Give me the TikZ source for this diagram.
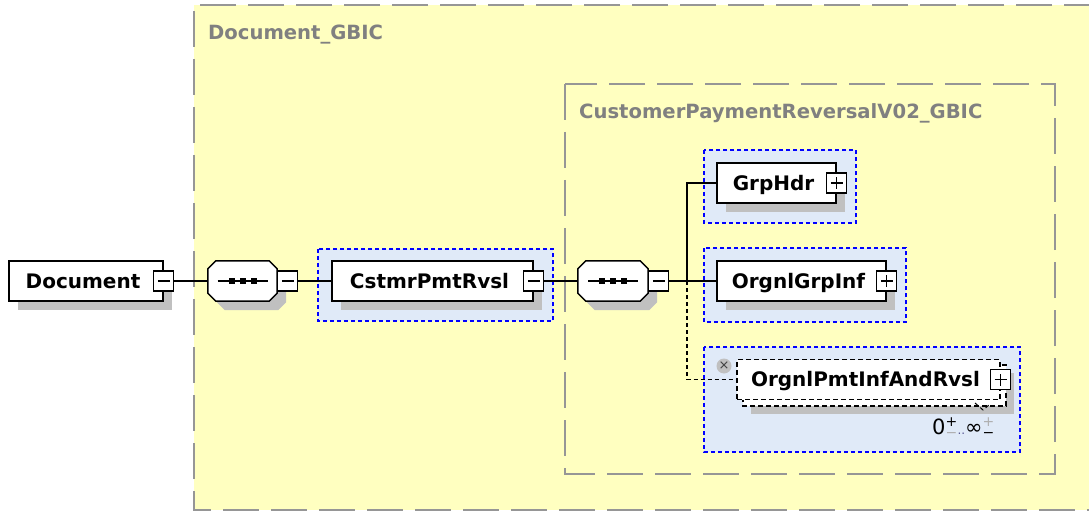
\documentclass[tikz,border=0pt]{standalone}
\usepackage{fontspec}
\setmainfont{DejaVu Sans}
\usetikzlibrary{shadows,calc}
\definecolor{yel}{RGB}{255,255,192}
\definecolor{dgray}{RGB}{150,150,150}
\definecolor{tgray}{RGB}{128,128,128}
\definecolor{lgray}{RGB}{175,175,175}
\definecolor{lblue}{RGB}{224,234,248}
\definecolor{shc}{RGB}{192,192,192}
\definecolor{bblue}{RGB}{0,0,255}
\definecolor{dotc}{RGB}{90,90,150}
\newcommand\octdraw[1]{%
  \begin{scope}[transform canvas={shift={(9pt,-9pt)}}]
    \fill[shc] ([xshift=8pt]#1.north west) -- ([xshift=-8pt]#1.north east) -- ([yshift=-8pt]#1.north east) -- ([yshift=8pt]#1.south east) -- ([xshift=-8pt]#1.south east) -- ([xshift=8pt]#1.south west) -- ([yshift=8pt]#1.south west) -- ([yshift=-8pt]#1.north west) -- cycle;
  \end{scope}
  \draw[octline] ([xshift=8pt]#1.north west) -- ([xshift=-8pt]#1.north east) -- ([yshift=-8pt]#1.north east) -- ([yshift=8pt]#1.south east) -- ([xshift=-8pt]#1.south east) -- ([xshift=8pt]#1.south west) -- ([yshift=8pt]#1.south west) -- ([yshift=-8pt]#1.north west) -- cycle;
  \draw[conn] ([xshift=-25pt]#1.center) -- ([xshift=25pt]#1.center);
  \foreach \dx in {-11,0,11}{\fill ([xshift=\dx pt]#1.center) +(-3pt,-3pt) rectangle +(3pt,3pt);}
}
\newcommand\pmst[2]{\makebox[12pt][l]{\rlap{\raisebox{7.5pt}{\fontsize{14}{14}\selectfont\color{#1}+}}\raisebox{-3pt}{\fontsize{14}{14}\selectfont\color{#2}−}}}
\begin{document}
\begin{tikzpicture}[x=1pt,y=-1pt,
  grpbox/.style={draw=dgray, line width=2pt, dash pattern=on 36pt off 12pt},
  titletxt/.style={anchor=base west, text=tgray, font=\fontsize{19.6}{22}\selectfont\bfseries, inner sep=0},
  bluebox/.style={draw=bblue, fill=lblue, line width=1.5pt, dash pattern=on 4pt off 3pt},
  elembase/.style={fill=white, line width=1.6pt, inner sep=0, minimum height=40pt,
    text height=14.5pt, text depth=0pt, font=\fontsize{20}{24}\selectfont\bfseries,
    execute at begin node={\hspace*{-6pt}}},
  elem/.style={elembase, draw=black, drop shadow={shadow xshift=9pt, shadow yshift=-9pt, fill=shc, opacity=1}},
  elemdash/.style={elembase, draw=black, line width=1.3pt, dash pattern=on 5pt off 3pt},
  seqnode/.style={minimum width=#1, minimum height=40pt, inner sep=0},
  octline/.style={draw=black, fill=white, line width=1.5pt},
  conn/.style={draw=black, line width=1.4pt},
  dconn/.style={conn, dash pattern=on 4pt off 3pt},
  pmbase/.style={draw=black, fill=white, line width=1.2pt, minimum size=20pt, inner sep=0},
  minusbox/.style={pmbase, path picture={\draw[line width=1.3pt] ([xshift=-6pt]path picture bounding box.center) -- ([xshift=6pt]path picture bounding box.center);}},
  plusbox/.style={pmbase, path picture={\draw[line width=1.3pt] ([xshift=-6pt]path picture bounding box.center) -- ([xshift=6pt]path picture bounding box.center) ([yshift=-6pt]path picture bounding box.center) -- ([yshift=6pt]path picture bounding box.center);}}
]
\useasboundingbox (0,0) rectangle (1089,513);
\fill[white] (0,0) rectangle (1089,513);
% group boxes
\fill[yel] (194,5) rectangle (1100,510);
\draw[grpbox] (1100,5) -- (194,5) -- (194,510) -- (1100,510);
\draw[grpbox] (565,84) rectangle (1055,474);
\node[titletxt] (t1) at (208,40) {Document\_GBIC};
\node[titletxt] (t2) at (579,119) {CustomerPaymentReversalV02\_GBIC};
% blue boxes
\draw[bluebox] (318,249) rectangle (553,321);
\draw[bluebox] (704,150) rectangle (856,223);
\draw[bluebox] (704,248) rectangle (906,322);
\draw[bluebox] (704,347) rectangle (1020,452);
% Document
\node[elem, minimum width=154pt] (doc) at (86,281) {Document};
\node[minusbox] (docm) at (doc.east) {};
% sequence A
\node[seqnode=69pt] (seqA) at (242.5,281) {};
\octdraw{seqA}
\node[minusbox, anchor=west] (seqAm) at (seqA.east) {};
% CstmrPmtRvsl
\node[elem, minimum width=201pt] (cpr) at (432.5,281) {CstmrPmtRvsl};
\node[minusbox] (cprm) at (cpr.east) {};
% sequence B
\node[seqnode=70pt] (seqB) at (613,281) {};
\octdraw{seqB}
\node[minusbox, anchor=west] (seqBm) at (seqB.east) {};
% children
\node[elem, minimum width=119pt] (grp) at (776.5,183) {GrpHdr};
\node[plusbox] (grpp) at (grp.east) {};
\node[elem, minimum width=169pt] (ogi) at (801.5,281) {OrgnlGrpInf};
\node[plusbox] (ogip) at (ogi.east) {};
\fill[shc] (751,373) rectangle (1014,414);
\draw[elemdash, fill=white] (743,365) rectangle (1006,406);
\node[elemdash, minimum width=263pt] (opi) at (868.5,379.5) {OrgnlPmtInfAndRvsl};
\node[plusbox] (opip) at (opi.east) {};
\draw[dconn, line width=1pt] (975,403) -- (983,410) -- (989,405);
\node[anchor=base west, inner sep=0, font=\fontsize{21}{21}\selectfont] (card) at (932,434) {0\pmst{black}{lgray}\raisebox{0pt}{\fontsize{12}{12}\selectfont\color{dotc}..}∞\pmst{lgray}{black}};
% connectors
\coordinate (br) at (687,281);
\coordinate (brd) at (687,379.5);
\draw[conn] (docm.east) -- (seqA.west);
\draw[conn] (seqAm.east) -- (cpr.west);
\draw[conn] (cprm.east) -- (seqB.west);
\draw[conn] (seqBm.east) -- (br) -- (ogi.west);
\draw[conn] (br) |- (grp.west);
\draw[dconn] (br) -- (brd) -- (opi.west);
\node[circle, fill=shc, minimum size=15pt, inner sep=0, text=black!75, font=\fontsize{13}{13}\selectfont] (opt) at (724,366) {×};
\end{tikzpicture}
\end{document}
